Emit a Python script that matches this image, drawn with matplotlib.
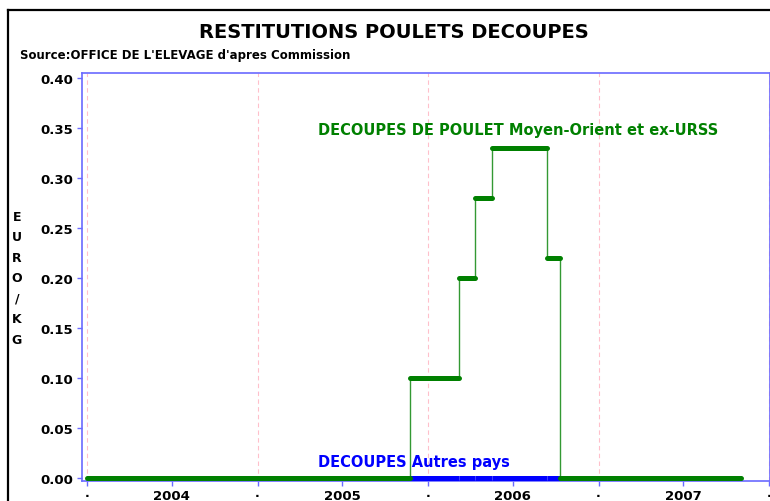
import matplotlib
matplotlib.use('Agg')
import matplotlib.pyplot as plt
import matplotlib.dates as mdates
import numpy as np
from matplotlib.lines import Line2D

# ---- data ----
change_dates = ['2004-01-01', '2005-11-24', '2006-03-08', '2006-04-11',
                '2006-05-18', '2006-09-13', '2006-10-11', '2007-11-03']
moyen_orient_values = [0.00, 0.10, 0.20, 0.28, 0.33, 0.22, 0.00]
autres_pays_values = [0.00, 0.00, 0.00, 0.00, 0.00, 0.00, 0.00]

year_boundaries = ['2004-01-01', '2005-01-01', '2006-01-01', '2007-01-01', '2008-01-01']
year_mid = ['2004-07-01', '2005-07-01', '2006-07-01', '2007-07-01']
year_labels = ['2004', '2005', '2006', '2007']
y_ticks = [0.00, 0.05, 0.10, 0.15, 0.20, 0.25, 0.30, 0.35, 0.40]
y_tick_labels = ['0.00', '0.05', '0.10', '0.15', '0.20', '0.25', '0.30', '0.35', '0.40']

title = 'RESTITUTIONS POULETS DECOUPES'
source = "Source:OFFICE DE L'ELEVAGE d'apres Commission"
label_mo = 'DECOUPES DE POULET Moyen-Orient et ex-URSS'
label_ap = 'DECOUPES Autres pays'
ylabel = 'EURO/KG'

GREEN = '#008000'
BLUE = '#0000ff'
SPINE = '#6a6aff'
GRID = '#ffc0cb'

W, H = 770, 502
fig = plt.figure(figsize=(W / 100, H / 100), dpi=100)
ax = fig.add_axes([82 / W, 1 - 482 / H, (769.5 - 82) / W, (482 - 74) / H])

def dn(lst):
    return mdates.date2num(np.array(lst, dtype='datetime64[D]'))

d = dn(change_dates)
starts, ends = d[:-1], d[1:]

# blue series (underneath)
ax.hlines(autres_pays_values, starts, ends, colors=BLUE, lw=3.6, capstyle='butt', zorder=3)
# green series: thin step connectors + thick levels
ax.step(d, moyen_orient_values + [moyen_orient_values[-1]], where='post',
        color=GREEN, lw=1.0, alpha=0.8, zorder=4)
ax.hlines(moyen_orient_values, starts, ends, colors=GREEN, lw=3.6, capstyle='round', zorder=5)

# axes limits
yb = dn(year_boundaries)
ax.set_xlim(yb[0] - 10, yb[-1] + 1)
ax.set_ylim(-0.003, 0.4055)

# grid: vertical pink dashed at year boundaries
for x in yb:
    ax.axvline(x, color=GRID, lw=0.8, ls=(0, (4, 3)), zorder=1)

# ticks
ax.set_xticks(yb)
ax.set_xticklabels(['.'] * len(yb), fontweight='bold', fontsize=9)
ax.set_xticks(dn(year_mid), minor=True)
ax.set_xticklabels(year_labels, minor=True, fontweight='bold', fontsize=9.5)
ax.tick_params(axis='x', which='both', direction='out', length=3.5, width=1,
               color=SPINE)
ax.tick_params(axis='x', which='minor', pad=2)
ax.tick_params(axis='x', which='major', pad=0)

ax.set_yticks(y_ticks)
ax.set_yticklabels(y_tick_labels, fontweight='bold', fontsize=9.5)
ax.tick_params(axis='y', direction='out', length=3.5, width=1, color=SPINE, pad=3)

for s in ax.spines.values():
    s.set_color(SPINE)
    s.set_linewidth(1.2)

# labels inside plot
ax.text((318 - 82) / (769.5 - 82), (482 - 130) / (482 - 74), label_mo,
        transform=ax.transAxes, color=GREEN, fontweight='bold', fontsize=10.5,
        ha='left', va='center')
ax.text((318 - 82) / (769.5 - 82), (482 - 463) / (482 - 74), label_ap,
        transform=ax.transAxes, color=BLUE, fontweight='bold', fontsize=10.5,
        ha='left', va='center')

# titles
fig.text(394 / W, 1 - 33 / H, title, ha='center', va='center',
         fontsize=14, fontweight='bold')
fig.text(20 / W, 1 - 55 / H, source, ha='left', va='center',
         fontsize=8.5, fontweight='bold')

# stacked y label
fig.text(17 / W, 1 - 279 / H, '\n'.join(ylabel), ha='center', va='center',
         fontsize=9, fontweight='bold', linespacing=1.75)

# outer black frame
fig.add_artist(Line2D([8 / W, 8 / W], [0, 1 - 11 / H], transform=fig.transFigure,
                      color='black', lw=1.6))
fig.add_artist(Line2D([8 / W, 1], [1 - 11 / H, 1 - 11 / H], transform=fig.transFigure,
                      color='black', lw=1.6))

fig.savefig('out.png', dpi=100)
